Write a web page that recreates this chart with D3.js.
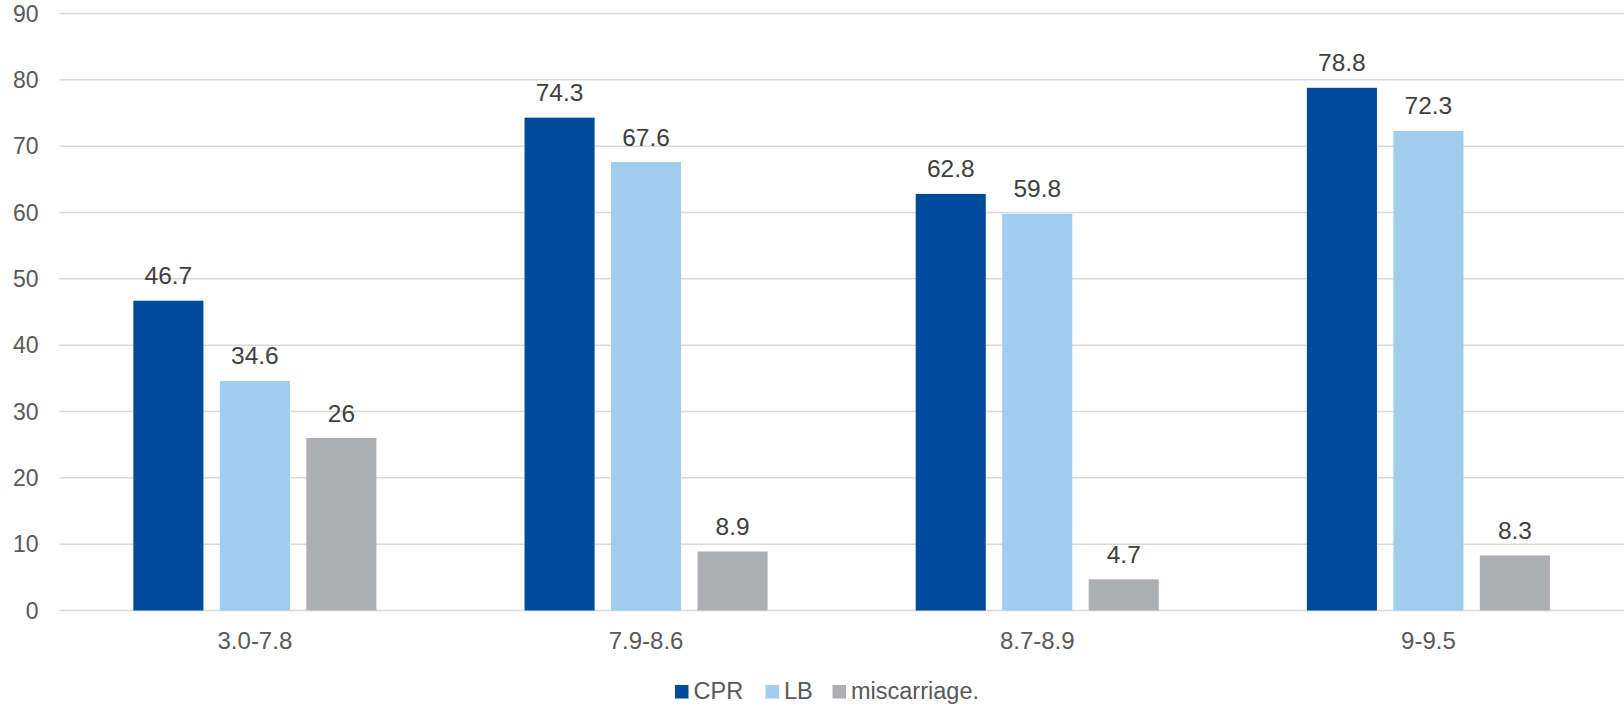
<!DOCTYPE html>
<html><head><meta charset="utf-8">
<script src="https://cdn.jsdelivr.net/npm/d3@7"></script>
<style>body{margin:0;background:#fff}svg{display:block;font-family:"Liberation Sans",Arial,sans-serif}</style>
</head><body><svg id="c" width="1624" height="708"></svg>
<script>
const categories = ["3.0-7.8", "7.9-8.6", "8.7-8.9", "9-9.5"];
const seriesNames = ["CPR", "LB", "miscarriage."];
const cprValues = [46.7, 74.3, 62.8, 78.8];
const lbValues = [34.6, 67.6, 59.8, 72.3];
const miscValues = [26, 8.9, 4.7, 8.3];
const yTicks = [0, 10, 20, 30, 40, 50, 60, 70, 80, 90];
const colors = ["#004A9C", "#A0CDEE", "#AEAFB3"];

const seriesValues = [cprValues, lbValues, miscValues];
const svg = d3.select("#c");
const y = d3.scaleLinear().domain([0, 90]).range([610.5, 13.5]);
const x0 = d3.scaleBand().domain(categories).range([59.3, 1624]).padding(0);
const groupW = 259.5;
const x1 = d3.scaleBand().domain(seriesNames).range([0, groupW]).paddingInner(0.19).paddingOuter(0.095);

// gridlines
svg.append("g").selectAll("line").data(yTicks).join("line")
  .attr("x1", 59.3).attr("x2", 1624)
  .attr("y1", d => y(d)).attr("y2", d => y(d))
  .attr("stroke", "#D9D9D9").attr("stroke-width", 1.5);

// y tick labels
svg.append("g").selectAll("text").data(yTicks).join("text")
  .attr("x", 38.5).attr("y", d => y(d)).attr("dy", "0.35em")
  .attr("text-anchor", "end").attr("font-size", 23).attr("fill", "#595959")
  .text(d => d);

// bars
seriesNames.forEach((s, si) => {
  const g = svg.append("g");
  g.selectAll("rect").data(categories).join("rect")
    .attr("x", c => x0(c) + x0.bandwidth() / 2 - groupW / 2 + x1(s))
    .attr("width", x1.bandwidth())
    .attr("y", (c, i) => y(seriesValues[si][i]))
    .attr("height", (c, i) => y(0) - y(seriesValues[si][i]))
    .attr("fill", colors[si]);
  g.selectAll("text").data(categories).join("text")
    .attr("x", c => x0(c) + x0.bandwidth() / 2 - groupW / 2 + x1(s) + x1.bandwidth() / 2)
    .attr("y", (c, i) => y(seriesValues[si][i]) - 16.5)
    .attr("text-anchor", "middle").attr("font-size", 24.5).attr("fill", "#404040")
    .text((c, i) => seriesValues[si][i]);
});

// category labels
svg.append("g").selectAll("text").data(categories).join("text")
  .attr("x", c => x0(c) + x0.bandwidth() / 2).attr("y", 649.3)
  .attr("text-anchor", "middle").attr("font-size", 24).attr("fill", "#595959")
  .text(c => c);

// legend
const legX = [675, 765.5, 832.5];
const lg = svg.append("g");
seriesNames.forEach((s, i) => {
  lg.append("rect").attr("x", legX[i]).attr("y", 685).attr("width", 13.5).attr("height", 13.5).attr("fill", colors[i]);
  lg.append("text").attr("x", legX[i] + 18.5).attr("y", 699.3)
    .attr("font-size", 23.5).attr("fill", "#595959").text(s);
});
</script></body></html>
